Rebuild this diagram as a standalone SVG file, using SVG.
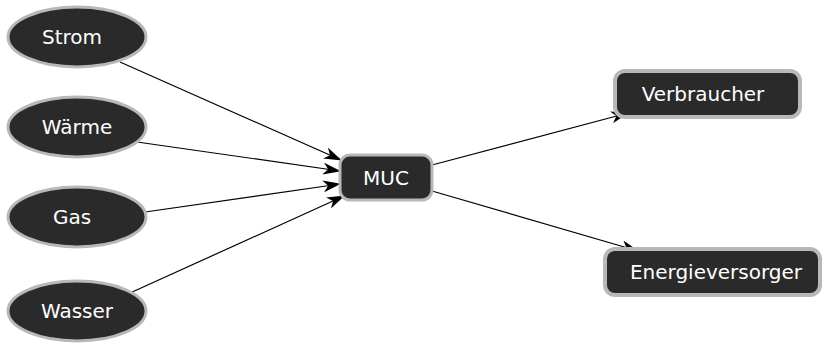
<svg xmlns="http://www.w3.org/2000/svg" width="822" height="345" viewBox="0 0 822 345">
<defs>
<marker id="arr" viewBox="0 0 18 12" refX="17" refY="6" markerWidth="18" markerHeight="12" markerUnits="userSpaceOnUse" orient="auto">
<path d="M0,0 L18,6 L0,12 L5,6 Z" fill="#000"/>
</marker>
</defs>
<style>
.n{fill:#2a2a2a;stroke:#b8b8b8;stroke-width:3}
.t{fill:#fff;font-family:"DejaVu Sans",sans-serif;font-size:20px;text-anchor:middle;dominant-baseline:central}
.e{stroke:#000;stroke-width:1.2;fill:none;marker-end:url(#arr)}
</style>
<rect width="822" height="345" fill="#fff"/>
<g id="edges">
<line class="e" x1="120" y1="62" x2="341" y2="160"/>
<line class="e" x1="137" y1="142" x2="340" y2="171"/>
<line class="e" x1="145" y1="212" x2="340" y2="184"/>
<line class="e" x1="130" y1="293" x2="344" y2="196"/>
<line class="e" x1="432" y1="165" x2="628" y2="113"/>
<line class="e" x1="432" y1="191" x2="638" y2="251"/>
</g>
<g id="strom"><ellipse class="n" cx="77" cy="37" rx="69" ry="30"/><text class="t" x="72" y="37">Strom</text></g>
<g id="waerme"><ellipse class="n" cx="77" cy="127" rx="69" ry="30"/><text class="t" x="77" y="127">Wärme</text></g>
<g id="gas"><ellipse class="n" cx="77" cy="217" rx="69" ry="30"/><text class="t" x="72" y="217">Gas</text></g>
<g id="wasser"><ellipse class="n" cx="77" cy="311" rx="69" ry="30"/><text class="t" x="77" y="311">Wasser</text></g>
<g id="muc"><rect class="n" x="340" y="155" width="92" height="45" rx="10"/><text class="t" x="386" y="178">MUC</text></g>
<g id="verbraucher"><rect class="n" x="615" y="71" width="185" height="46" rx="10" style="stroke-width:4"/><text class="t" x="703" y="94">Verbraucher</text></g>
<g id="energieversorger"><rect class="n" x="605" y="249" width="215" height="46" rx="10" style="stroke-width:4"/><text class="t" x="716" y="272">Energieversorger</text></g>
</svg>
